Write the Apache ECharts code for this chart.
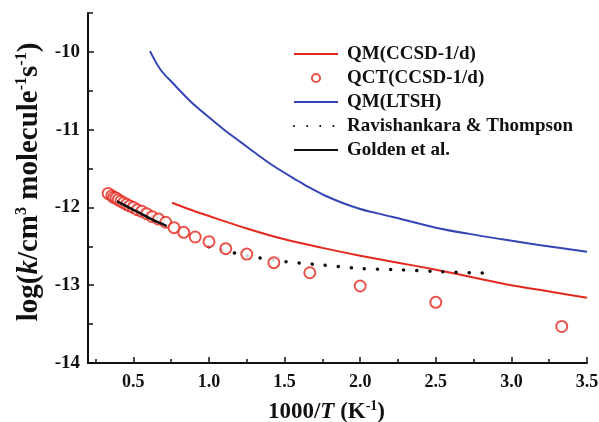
<!DOCTYPE html>
<html>
<head>
<meta charset="utf-8">
<script src="https://cdn.jsdelivr.net/npm/echarts@6/dist/echarts.min.js"></script>
<style>
  html, body { margin: 0; padding: 0; background: #fff; }
  #chart { width: 599px; height: 422px; }
</style>
</head>
<body>
<div id="chart"></div>
<script>
// Rate constants log(k) versus 1000/T for the reaction studied

// QM(CCSD-1/d) rate curve
const qmCcsdX = [0.756, 0.85, 1.0, 1.25, 1.5, 1.75, 2.0, 2.25, 2.5, 2.75, 3.0, 3.25, 3.5];
const qmCcsdY = [-11.94, -12.01, -12.11, -12.27, -12.41, -12.52, -12.62, -12.71, -12.80, -12.90, -13.00, -13.08, -13.16];

// QCT(CCSD-1/d) points, 3000 K down to 300 K
const qctX = [0.333, 0.357, 0.370, 0.385, 0.400, 0.417, 0.435, 0.455, 0.476, 0.500, 0.526, 0.556, 0.588,
              0.625, 0.667, 0.714, 0.769, 0.833, 0.909, 1.000, 1.111, 1.250, 1.429, 1.667, 2.000, 2.500, 3.333];
const qctY = [-11.82, -11.85, -11.87, -11.88, -11.90, -11.92, -11.94, -11.96, -11.98, -12.00, -12.03, -12.05, -12.08,
              -12.12, -12.15, -12.19, -12.26, -12.32, -12.38, -12.44, -12.53, -12.60, -12.71, -12.84, -13.01, -13.22, -13.53];

// QM(LTSH) rate curve
const qmLtshX = [0.61, 0.68, 0.77, 0.88, 1.0, 1.1, 1.21, 1.32, 1.43, 1.59, 1.66, 1.77, 1.88, 2.0, 2.1, 2.21, 2.5, 2.72, 2.94, 3.17, 3.5];
const qmLtshY = [-9.99, -10.23, -10.42, -10.64, -10.84, -11.0, -11.16, -11.32, -11.47, -11.66, -11.74, -11.85, -11.94, -12.02, -12.07, -12.12, -12.26, -12.34, -12.41, -12.48, -12.57];

// Ravishankara & Thompson experiment
const ravX = [1.0, 1.25, 1.5, 1.75, 2.0, 2.25, 2.5, 2.75, 2.88];
const ravY = [-12.505, -12.62, -12.695, -12.74, -12.785, -12.80, -12.823, -12.842, -12.846];

// Golden et al. experiment
const goldenX = [0.39, 0.45, 0.5, 0.55, 0.6, 0.65, 0.7, 0.72];
const goldenY = [-11.92, -11.98, -12.03, -12.08, -12.13, -12.18, -12.22, -12.24];

// Axis ticks
const xMajorTicks = [0.5, 1.0, 1.5, 2.0, 2.5, 3.0, 3.5];
const xMinorTicks = [0.25, 0.75, 1.25, 1.75, 2.25, 2.75, 3.25];
const yMajorTicks = [-14, -13, -12, -11, -10];
const yMinorTicks = [-13.5, -12.5, -11.5, -10.5, -9.5];

const seriesNames = ['QM(CCSD-1/d)', 'QCT(CCSD-1/d)', 'QM(LTSH)', 'Ravishankara & Thompson', 'Golden et al.'];

const pairs = (xs, ys) => xs.map((x, i) => [x, ys[i]]);

const FONT = '"Liberation Serif", "Times New Roman", serif';
const INK = '#111';
const RED = '#e5281e';
const BLUE = '#3645b5';

const chart = echarts.init(document.getElementById('chart'), null, { renderer: 'canvas' });

const supStyle = { fontFamily: FONT, fontWeight: 'bold', fontSize: 14, color: INK, verticalAlign: 'top', lineHeight: 14 };

// line entries in the legend show only their stroke, no marker
const legendData = seriesNames.map((n, i) =>
  i === 1 ? { name: n } : { name: n, itemStyle: { opacity: 0 } });

chart.setOption({
  backgroundColor: '#fff',
  animation: false,
  grid: { left: 88, right: 12, top: 13, bottom: 59, containLabel: false, outerBoundsMode: 'none' },
  legend: {
    orient: 'vertical',
    left: 288,
    top: 39,
    itemWidth: 44,
    itemHeight: 8,
    itemGap: 4,
    textStyle: { fontFamily: FONT, fontWeight: 'bold', fontSize: 19, lineHeight: 20, color: INK, padding: [0, 0, 0, 4] },
    data: legendData
  },
  xAxis: [
    {
      type: 'value', min: 0.2, max: 3.5, position: 'bottom',
      axisLine: { show: true, onZero: false, lineStyle: { color: INK, width: 2 } },
      axisTick: { show: true, inside: true, length: 6, customValues: xMajorTicks, lineStyle: { color: INK, width: 1.5 } },
      axisLabel: { show: true, customValues: xMajorTicks, margin: 10, formatter: v => v.toFixed(1),
                   fontFamily: FONT, fontWeight: 'bold', fontSize: 18, color: INK },
      splitLine: { show: false },
      name: '{a|1000/}{i|T}{a| (K}{s|-1}{a|)}',
      nameLocation: 'middle',
      nameGap: 36,
      nameTextStyle: {
        padding: [0, 22, 0, 0],
        rich: {
          a: { fontFamily: FONT, fontWeight: 'bold', fontSize: 23, color: INK, lineHeight: 26 },
          i: { fontFamily: FONT, fontWeight: 'bold', fontStyle: 'italic', fontSize: 23, color: INK, lineHeight: 26 },
          s: supStyle
        }
      }
    },
    {
      type: 'value', min: 0.2, max: 3.5, position: 'bottom',
      axisLine: { show: false },
      axisTick: { show: true, inside: true, length: 4, customValues: xMinorTicks, lineStyle: { color: INK, width: 1.5 } },
      axisLabel: { show: false },
      splitLine: { show: false }
    }
  ],
  yAxis: [
    {
      type: 'value', min: -14, max: -9.5, position: 'left',
      axisLine: { show: true, onZero: false, lineStyle: { color: INK, width: 2 } },
      axisTick: { show: true, inside: true, length: 6, customValues: yMajorTicks, lineStyle: { color: INK, width: 1.5 } },
      axisLabel: { show: true, customValues: yMajorTicks, margin: 8, formatter: v => String(v),
                   fontFamily: FONT, fontWeight: 'bold', fontSize: 19, color: INK },
      splitLine: { show: false },
      name: '{a|log(}{i|k}{a|/cm}{s|3}{a| molecule}{s|-1}{a|s}{s|-1}{a|)}',
      nameLocation: 'middle',
      nameRotate: 90,
      nameGap: 43,
      nameTextStyle: {
        padding: [0, 0, 0, 12],
        rich: {
          a: { fontFamily: FONT, fontWeight: 'bold', fontSize: 29, color: INK, lineHeight: 31 },
          i: { fontFamily: FONT, fontWeight: 'bold', fontStyle: 'italic', fontSize: 29, color: INK, lineHeight: 31 },
          s: Object.assign({}, supStyle, { fontSize: 16, lineHeight: 16 })
        }
      }
    },
    {
      type: 'value', min: -14, max: -9.5, position: 'left',
      axisLine: { show: false },
      axisTick: { show: true, inside: true, length: 5, customValues: yMinorTicks, lineStyle: { color: INK, width: 1.5 } },
      axisLabel: { show: false },
      splitLine: { show: false }
    }
  ],
  series: [
    {
      name: seriesNames[0], type: 'line', symbol: 'none', smooth: 0.3,
      data: pairs(qmCcsdX, qmCcsdY),
      lineStyle: { color: RED, width: 2 }, itemStyle: { color: RED }, z: 3
    },
    {
      name: seriesNames[1], type: 'scatter', symbol: 'emptyCircle', symbolSize: 11,
      data: pairs(qctX, qctY),
      itemStyle: { color: RED, borderColor: RED, borderWidth: 2 }, z: 4
    },
    {
      name: seriesNames[2], type: 'line', symbol: 'none', smooth: 0.3,
      data: pairs(qmLtshX, qmLtshY),
      lineStyle: { color: BLUE, width: 2 }, itemStyle: { color: BLUE }, z: 3
    },
    {
      name: seriesNames[3], type: 'line', symbol: 'none', smooth: 0.3,
      data: pairs(ravX, ravY),
      lineStyle: { color: INK, width: 3.5, type: [0.1, 13], cap: 'round' }, itemStyle: { color: INK }, z: 3
    },
    {
      name: seriesNames[4], type: 'line', symbol: 'none', smooth: 0.3,
      data: pairs(goldenX, goldenY),
      lineStyle: { color: INK, width: 2.5 }, itemStyle: { color: INK }, z: 5
    }
  ]
});
</script>
</body>
</html>
